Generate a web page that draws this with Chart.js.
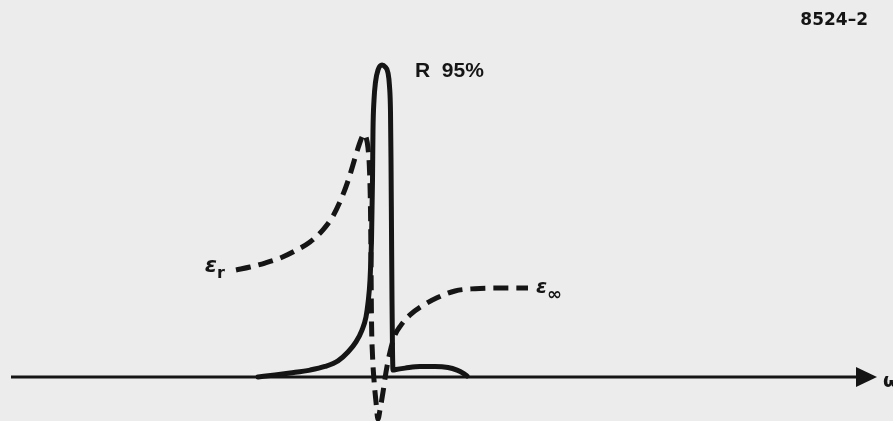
<!DOCTYPE html>
<html>
<head>
<meta charset="utf-8">
<script src="https://cdn.jsdelivr.net/npm/chart.js@4/dist/chart.umd.min.js"></script>
<style>
  html, body { margin: 0; padding: 0; background: #ececec; }
  canvas { display: block; }
</style>
</head>
<body>
<canvas id="c" width="893" height="421"></canvas>
<script>
// Reflectance band R(ω), percent
const omegaR = [2.58, 2.75, 2.90, 3.10, 3.25, 3.38, 3.48, 3.56, 3.62, 3.66, 3.68, 3.70, 3.715, 3.725, 3.73, 3.74, 3.755, 3.78, 3.82, 3.85, 3.88, 3.895, 3.905, 3.91, 3.915, 3.92, 3.925, 3.93, 3.96, 4.05, 4.20, 4.35, 4.48, 4.57, 4.63, 4.67];
const reflectance = [0, 0.6, 1.2, 2.1, 3.2, 4.9, 7.6, 10.7, 14.3, 18.3, 22.5, 29.5, 41.7, 60.0, 75.2, 84.3, 89.8, 93.5, 95.0, 94.5, 92.6, 88.6, 80.7, 66.1, 44.8, 23.4, 8.2, 2.1, 2.3, 2.7, 3.2, 3.2, 2.9, 2.1, 1.2, 0.3];

// Dielectric function ε(ω): from the static value εr to the high-frequency value ε∞
const omegaEps = [2.36, 2.50, 2.65, 2.80, 2.95, 3.10, 3.23, 3.33, 3.42, 3.49, 3.55, 3.59, 3.62, 3.64, 3.66, 3.68, 3.695, 3.705, 3.71, 3.715, 3.725, 3.74, 3.76, 3.78, 3.80, 3.83, 3.86, 3.90, 3.95, 4.01, 4.10, 4.22, 4.37, 4.55, 4.75, 5.00, 5.28];
const epsilon = [32.6, 33.5, 34.7, 36.2, 38.4, 41.1, 44.8, 49.0, 54.8, 60.6, 66.7, 70.6, 73.1, 74.0, 73.1, 69.7, 63.0, 50.9, 35.6, 17.4, 6.7, -0.9, -7.6, -12.8, -10.0, -4.6, 1.5, 7.6, 12.8, 15.8, 18.9, 21.6, 24.1, 26.2, 26.9, 27.1, 27.1];

// Axis extent along ω
const axisStart = 0.11;
const axisEnd = 8.77;

const INK = '#151515';
const toPoints = (xs, ys) => xs.map((x, i) => ({ x, y: ys[i] }));
const peakR = Math.max(...reflectance);
const peakIdx = reflectance.indexOf(peakR);

const paper = {
  id: 'paper',
  beforeDraw(chart) {
    const { ctx, width, height } = chart;
    ctx.save();
    ctx.fillStyle = '#ececec';
    ctx.fillRect(0, 0, width, height);
    ctx.restore();
  }
};

const annotations = {
  id: 'annotations',
  afterDatasetsDraw(chart) {
    const { ctx, scales: { x, y } } = chart;
    const y0 = y.getPixelForValue(0);
    const xs = x.getPixelForValue(axisStart);
    const xe = x.getPixelForValue(axisEnd);
    ctx.save();
    ctx.fillStyle = INK;
    ctx.strokeStyle = INK;

    // ω axis with arrowhead
    ctx.lineWidth = 3;
    ctx.beginPath();
    ctx.moveTo(xs, y0);
    ctx.lineTo(xe - 18, y0);
    ctx.stroke();
    ctx.beginPath();
    ctx.moveTo(xe, y0);
    ctx.lineTo(xe - 21, y0 - 10);
    ctx.lineTo(xe - 21, y0 + 10);
    ctx.closePath();
    ctx.fill();

    ctx.textBaseline = 'alphabetic';
    ctx.textAlign = 'left';
    ctx.font = 'bold 19px "DejaVu Sans"';
    ctx.fillText('ω', xe + 6, y0 + 10);

    // R peak label
    const px = x.getPixelForValue(omegaR[peakIdx]);
    const py = y.getPixelForValue(peakR);
    ctx.font = 'bold 21px "Liberation Sans", Arial, sans-serif';
    ctx.fillText('R  ' + peakR + '%', px + 33, py + 12);

    // εr at the low-frequency end
    const ex0 = x.getPixelForValue(omegaEps[0]);
    const ey0 = y.getPixelForValue(epsilon[0]);
    ctx.textAlign = 'right';
    ctx.font = 'bold italic 22px "DejaVu Sans"';
    ctx.fillText('ε', ex0 - 19, ey0 + 2);
    ctx.textAlign = 'left';
    ctx.font = 'bold 16px "DejaVu Sans"';
    ctx.fillText('r', ex0 - 19, ey0 + 8);

    // ε∞ at the high-frequency end
    const n = omegaEps.length - 1;
    const ex1 = x.getPixelForValue(omegaEps[n]);
    const ey1 = y.getPixelForValue(epsilon[n]);
    ctx.font = 'bold italic 20px "DejaVu Sans"';
    ctx.fillText('ε', ex1 + 8, ey1 + 5);
    ctx.font = 'bold 18px "DejaVu Sans"';
    ctx.fillText('∞', ex1 + 19, ey1 + 12);

    // figure number
    ctx.textAlign = 'right';
    ctx.font = 'bold 17px "DejaVu Sans"';
    ctx.fillText('8524–2', 868, 25);
    ctx.restore();
  }
};

new Chart(document.getElementById('c'), {
  type: 'line',
  data: {
    datasets: [
      {
        label: 'ε',
        data: toPoints(omegaEps, epsilon),
        borderColor: INK,
        borderWidth: 5,
        borderDash: [15, 8],
        cubicInterpolationMode: 'monotone',
        pointRadius: 0,
        fill: false
      },
      {
        label: 'R',
        data: toPoints(omegaR, reflectance),
        borderColor: INK,
        borderWidth: 5,
        borderJoinStyle: 'round',
        borderCapStyle: 'round',
        cubicInterpolationMode: 'monotone',
        pointRadius: 0,
        fill: false
      }
    ]
  },
  options: {
    responsive: false,
    devicePixelRatio: 1,
    animation: false,
    layout: { padding: 0 },
    plugins: { legend: { display: false }, tooltip: { enabled: false } },
    scales: {
      x: { type: 'linear', min: 0, max: 8.93, display: false },
      y: { type: 'linear', min: -13.4, max: 114.8, display: false }
    }
  },
  plugins: [paper, annotations]
});
</script>
</body>
</html>
